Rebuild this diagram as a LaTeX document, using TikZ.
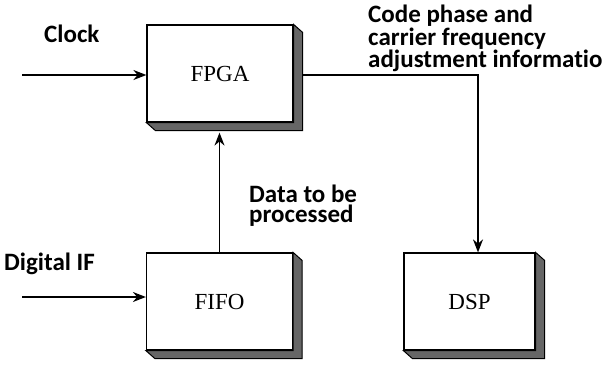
\documentclass[tikz,border=0pt]{standalone}
\usepackage{fontspec}
\setmainfont{Liberation Serif}
\newfontfamily\labelfont[RawFeature=-liga]{Carlito}
\usetikzlibrary{calc,arrows.meta}
\begin{document}
\begin{tikzpicture}[x=1pt,y=-1pt,
  block/.style={draw=black, line width=1.2pt, fill=white, inner sep=0pt,
    minimum width=146pt, minimum height=97pt,
    font=\fontsize{23}{25}\selectfont},
  sidefill/.style={fill=black!60, draw=black, line width=1pt},
  arr/.style={line width=1.6pt, -{Stealth[length=13pt,width=10pt]}},
  note/.style={font=\labelfont\bfseries\fontsize{25}{20}\selectfont,
    align=left, inner sep=0pt}]
  \useasboundingbox (0,0) rectangle (606,370);

  % the three blocks
  \node[block] (fpga) at (220,73.5) {FPGA};
  \node[block] (fifo) at (219.5,301.5) {FIFO};
  \node[block, minimum width=131pt] (dsp) at (469.5,301.5) {DSP};

  % raised-box side faces (right and bottom)
  \foreach \b in {fpga,fifo,dsp} {
    \filldraw[sidefill] (\b.north east) -- ++(9,8) -- ($(\b.south east)+(9,8)$)
      -- ($(\b.south west)+(9,8)$) -- (\b.south west) -- (\b.south east) -- cycle;
  }

  % inputs
  \coordinate (clkin) at (22,75);
  \coordinate (ifin) at (22,297);
  \draw[arr] (clkin) -- (clkin -| fpga.west);
  \draw[arr] (ifin) -- (ifin -| fifo.west);

  % FIFO to FPGA
  \coordinate (fpgab) at ($(fpga.south)+(0,10)$);
  \draw[arr] (fifo.north) -- (fifo.north |- fpgab);

  % FPGA to DSP
  \coordinate (fpgaout) at (303,75);
  \coordinate (turn) at (478,75);
  \draw[arr] (fpgaout) -- (turn) -- (turn |- dsp.north);

  % labels
  \node[note, anchor=west] (clk) at (44,34) {Clock};
  \node[note, anchor=west] (dif) at (4,264) {Digital IF};
  \node[note, anchor=north west] (data) at (249,185) {Data to be\\processed};
  \node[note, anchor=north west] (adj) at (368,5) {Code phase and\\carrier frequency\\adjustment informatio};
\end{tikzpicture}
\end{document}
